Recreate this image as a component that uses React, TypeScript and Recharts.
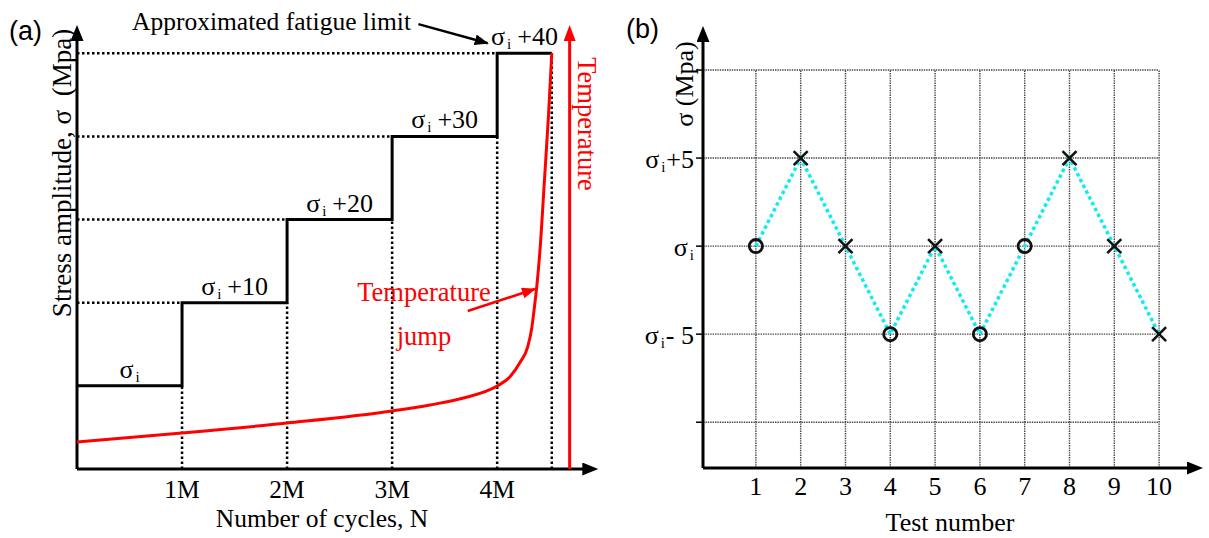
import React from "react";
import {
  ComposedChart,
  Line,
  Scatter,
  XAxis,
  YAxis,
  ReferenceLine,
} from "recharts";

// (a) step loading: start of each block (millions of cycles) and its stress level
const blockStart = [0, 1, 2, 3, 4];
const blockLevel = [10, 20, 30, 40, 50];
const blockSuffix = ["", "+10", "+20", "+30", "+40"];
const lastBlockEnd = 4.52;
const cycleTicks = [1, 2, 3, 4];

// (a) temperature response on the same cycle scale
const tempCycles = [0, 1, 2, 3, 3.36, 3.68, 4.0, 4.12, 4.22, 4.29, 4.33, 4.355, 4.38, 4.41, 4.45, 4.49, 4.52];
const tempValues = [3.25, 4.33, 5.53, 6.98, 7.7, 8.54, 9.98, 11.06, 12.87, 14.67, 17.0, 19.5, 22.3, 26.7, 34.7, 42.8, 50];
const tempAxisAt = 4.69;

// (b) staircase sequence: offset from sigma_i and outcome (o = runout, x = failure)
const testNumbers = [1, 2, 3, 4, 5, 6, 7, 8, 9, 10];
const stressOffset = [0, 5, 0, -5, 0, -5, 0, 5, 0, -5];
const outcome = ["o", "x", "x", "o", "x", "o", "o", "x", "x", "x"];
const stressTicks = [-10, -5, 0, 5, 10];
const stressTickSuffix: Record<number, string> = { 5: "+5", 0: "", [-5]: "-\u00a05" };

const serif = "'Liberation Serif', 'Times New Roman', serif";
const sans = "'Liberation Sans', Arial, sans-serif";
const RED = "#ff0000";
const CYAN = "#10eaf2";

const stepData = [
  ...blockStart.map((n, i) => ({ n, s: blockLevel[i] })),
  { n: lastBlockEnd, s: blockLevel[blockLevel.length - 1] },
];
const stepLabelData = blockStart.map((n, i) => ({
  n: (n + (blockStart[i + 1] ?? lastBlockEnd)) / 2,
  s: blockLevel[i],
  suffix: blockSuffix[i],
}));
const tempData = tempCycles.map((n, i) => ({ n, s: tempValues[i] }));
const testData = testNumbers.map((t, i) => ({ t, v: stressOffset[i], hit: outcome[i] }));

function SigmaText({
  suffix,
  x,
  y,
  gap,
  anchor = "middle",
}: {
  suffix: string;
  x: number;
  y: number;
  gap: number;
  anchor?: "start" | "middle" | "end";
}) {
  return (
    <text x={x} y={y} textAnchor={anchor} fontFamily={serif} fontSize={26} fill="#000">
      σ
      <tspan fontSize={15} dy={4} dx={2}>
        i
      </tspan>
      {suffix ? (
        <tspan dy={-4} dx={gap}>
          {suffix}
        </tspan>
      ) : null}
    </text>
  );
}

const dotted = { stroke: "#000", strokeWidth: 2.5, strokeDasharray: "2.5 2.5" };
const gridDots = { stroke: "#444", strokeWidth: 1.4, strokeDasharray: "1.4 1" };

function StepLabel(props: any) {
  const { cx, cy, payload } = props;
  return <SigmaText x={cx} y={cy - 8} suffix={payload.suffix} gap={6} />;
}

function TestDot(props: any) {
  const { cx, cy, payload, index } = props;
  if (payload.hit === "o") {
    return (
      <circle key={`d${index}`} cx={cx} cy={cy} r={6.6} fill="none" stroke="#111" strokeWidth={2.8} />
    );
  }
  const h = 7;
  return (
    <g key={`d${index}`} stroke="#111" strokeWidth={2.6}>
      <line x1={cx - h} y1={cy - h} x2={cx + h} y2={cy + h} />
      <line x1={cx - h} y1={cy + h} x2={cx + h} y2={cy - h} />
    </g>
  );
}

function StressTick(props: any) {
  const { x, y, payload } = props;
  const suffix = stressTickSuffix[payload.value];
  if (suffix === undefined) return <g />;
  return <SigmaText x={x} y={y + 9.5} suffix={suffix} anchor="end" gap={1} />;
}

function PanelA() {
  return (
    <ComposedChart width={620} height={538} margin={{ top: 25, right: 22, bottom: 39, left: 17 }}>
      <XAxis
        type="number"
        dataKey="n"
        domain={[0, 4.96]}
        ticks={cycleTicks}
        tickFormatter={(v) => `${v}M`}
        axisLine={false}
        tickLine={false}
        tickSize={0}
        tickMargin={11}
        height={30}
        tick={{ fill: "#000", fontSize: 25.5, fontFamily: serif }}
      />
      <YAxis type="number" dataKey="s" domain={[0, 53.4]} tick={false} axisLine={false} tickLine={false} width={60} />

      {/* dotted guides to each block level and block change */}
      {blockLevel.slice(1).map((lv, i) => (
        <ReferenceLine
          key={`h${lv}`}
          segment={[{ x: 0, y: lv }, { x: blockStart[i + 1], y: lv }]}
          ifOverflow="visible"
          {...dotted}
        />
      ))}
      {blockStart.slice(1).map((n, i) => (
        <ReferenceLine
          key={`v${n}`}
          segment={[{ x: n, y: 0 }, { x: n, y: blockLevel[i] }]}
          ifOverflow="visible"
          {...dotted}
        />
      ))}
      <ReferenceLine
        segment={[{ x: lastBlockEnd, y: 0 }, { x: lastBlockEnd, y: blockLevel[blockLevel.length - 1] }]}
        ifOverflow="visible"
        {...dotted}
      />

      {/* axes with arrow heads */}
      <ReferenceLine
        segment={[{ x: 0, y: 0 }, { x: 4.82, y: 0 }]}
        ifOverflow="visible"
        stroke="#000"
        strokeWidth={3}
        markerEnd="url(#axisArrow)"
      />
      <ReferenceLine
        segment={[{ x: 0, y: 0 }, { x: 0, y: 51.6 }]}
        ifOverflow="visible"
        stroke="#000"
        strokeWidth={3}
        markerEnd="url(#axisArrow)"
      />
      <ReferenceLine
        segment={[{ x: tempAxisAt, y: 0 }, { x: tempAxisAt, y: 51.6 }]}
        ifOverflow="visible"
        stroke={RED}
        strokeWidth={3}
        markerEnd="url(#redAxisArrow)"
      />

      <Line
        data={stepData}
        dataKey="s"
        type="stepAfter"
        stroke="#000"
        strokeWidth={3}
        dot={false}
        isAnimationActive={false}
      />
      <Line
        data={tempData}
        dataKey="s"
        type="monotone"
        stroke={RED}
        strokeWidth={3}
        dot={false}
        isAnimationActive={false}
      />
      <Scatter data={stepLabelData} dataKey="s" shape={StepLabel} isAnimationActive={false} />

      {/* annotation arrows */}
      <ReferenceLine
        segment={[{ x: 3.25, y: 53.5 }, { x: 3.91, y: 51.2 }]}
        ifOverflow="visible"
        stroke="#000"
        strokeWidth={2.5}
        markerEnd="url(#noteArrow)"
      />
      <ReferenceLine
        segment={[{ x: 3.72, y: 19.0 }, { x: 4.36, y: 21.65 }]}
        ifOverflow="visible"
        stroke={RED}
        strokeWidth={2.5}
        markerEnd="url(#redNoteArrow)"
      />
    </ComposedChart>
  );
}

function PanelB() {
  const xMin = -0.18;
  const yMin = -12.6;
  return (
    <ComposedChart width={589} height={538} margin={{ top: 26, right: 6, bottom: 40, left: 23 }}>
      <XAxis
        type="number"
        dataKey="t"
        domain={[xMin, 10.98]}
        ticks={testNumbers}
        axisLine={false}
        tickLine={false}
        tickSize={0}
        tickMargin={8.5}
        height={30}
        tick={{ fill: "#000", fontSize: 26, fontFamily: serif }}
      />
      <YAxis
        type="number"
        dataKey="v"
        domain={[yMin, 12.5]}
        ticks={stressTicks}
        axisLine={false}
        tickLine={{ stroke: "#000", strokeWidth: 1.5 }}
        tickSize={7}
        tickMargin={2}
        width={60}
        tick={StressTick}
      />

      {stressTicks.map((v) => (
        <ReferenceLine
          key={`gh${v}`}
          segment={[{ x: xMin, y: v }, { x: 10, y: v }]}
          ifOverflow="visible"
          {...gridDots}
        />
      ))}
      {testNumbers.map((t) => (
        <ReferenceLine
          key={`gv${t}`}
          segment={[{ x: t, y: yMin }, { x: t, y: 10 }]}
          ifOverflow="visible"
          {...gridDots}
        />
      ))}

      <ReferenceLine
        segment={[{ x: xMin, y: yMin }, { x: 10.645, y: yMin }]}
        ifOverflow="visible"
        stroke="#000"
        strokeWidth={3}
        markerEnd="url(#axisArrow)"
      />
      <ReferenceLine
        segment={[{ x: xMin, y: yMin }, { x: xMin, y: 11.65 }]}
        ifOverflow="visible"
        stroke="#000"
        strokeWidth={3}
        markerEnd="url(#axisArrow)"
      />

      <Line
        data={testData}
        dataKey="v"
        type="linear"
        stroke={CYAN}
        strokeWidth={3.5}
        strokeDasharray="3.5 3"
        dot={TestDot}
        isAnimationActive={false}
      />
    </ComposedChart>
  );
}

export default function App() {
  return (
    <div style={{ position: "absolute", left: 0, top: 0, width: 1209, height: 538, background: "#fff" }}>
      <div style={{ position: "absolute", left: 0, top: 0 }}>
        <PanelA />
      </div>
      <div style={{ position: "absolute", left: 620, top: 0 }}>
        <PanelB />
      </div>
      <svg
        width={1209}
        height={538}
        style={{ position: "absolute", left: 0, top: 0, pointerEvents: "none" }}
      >
        <defs>
          <marker id="axisArrow" markerUnits="userSpaceOnUse" markerWidth={17} markerHeight={13} refX={1} refY={6.5} orient="auto">
            <path d="M0,0 L16,6.5 L0,13 z" fill="#000" />
          </marker>
          <marker id="redAxisArrow" markerUnits="userSpaceOnUse" markerWidth={17} markerHeight={12} refX={1} refY={6} orient="auto">
            <path d="M0,0 L16,6 L0,12 z" fill={RED} />
          </marker>
          <marker id="noteArrow" markerUnits="userSpaceOnUse" markerWidth={15} markerHeight={11} refX={13} refY={5.5} orient="auto">
            <path d="M0,0 L14,5.5 L0,11 z" fill="#000" />
          </marker>
          <marker id="redNoteArrow" markerUnits="userSpaceOnUse" markerWidth={15} markerHeight={11} refX={13} refY={5.5} orient="auto">
            <path d="M0,0 L14,5.5 L0,11 z" fill={RED} />
          </marker>
        </defs>

        {/* panel (a) text */}
        <text x={9} y={40} fontFamily={sans} fontSize={27} fill="#000">(a)</text>
        <text x={132} y={30} fontFamily={serif} fontSize={25.5} fill="#000">Approximated fatigue limit</text>
        <text
          x={0}
          y={0}
          transform="translate(62,173) rotate(-90)"
          textAnchor="middle"
          dominantBaseline="central"
          fontFamily={serif}
          fontSize={27}
          fill="#000"
        >
          Stress amplitude, σ{"\u00a0 "}(Mpa)
        </text>
        <text x={322} y={527} textAnchor="middle" fontFamily={serif} fontSize={25.5} fill="#000">
          Number of cycles, N
        </text>
        <text
          x={0}
          y={0}
          transform="translate(587,124) rotate(90)"
          textAnchor="middle"
          dominantBaseline="central"
          fontFamily={serif}
          fontSize={26.5}
          fill={RED}
        >
          Temperature
        </text>
        <text x={424} y={301} textAnchor="middle" fontFamily={serif} fontSize={26.5} fill={RED}>Temperature</text>
        <text x={424} y={345} textAnchor="middle" fontFamily={serif} fontSize={26.5} fill={RED}>jump</text>

        {/* panel (b) text */}
        <text x={626} y={38} fontFamily={sans} fontSize={27} fill="#000">(b)</text>
        <text
          x={0}
          y={0}
          transform="translate(684,84) rotate(-90)"
          textAnchor="middle"
          dominantBaseline="central"
          fontFamily={serif}
          fontSize={26}
          fill="#000"
        >
          σ (Mpa)
        </text>
        <text x={950} y={531} textAnchor="middle" fontFamily={serif} fontSize={26} fill="#000">
          Test number
        </text>
      </svg>
    </div>
  );
}
